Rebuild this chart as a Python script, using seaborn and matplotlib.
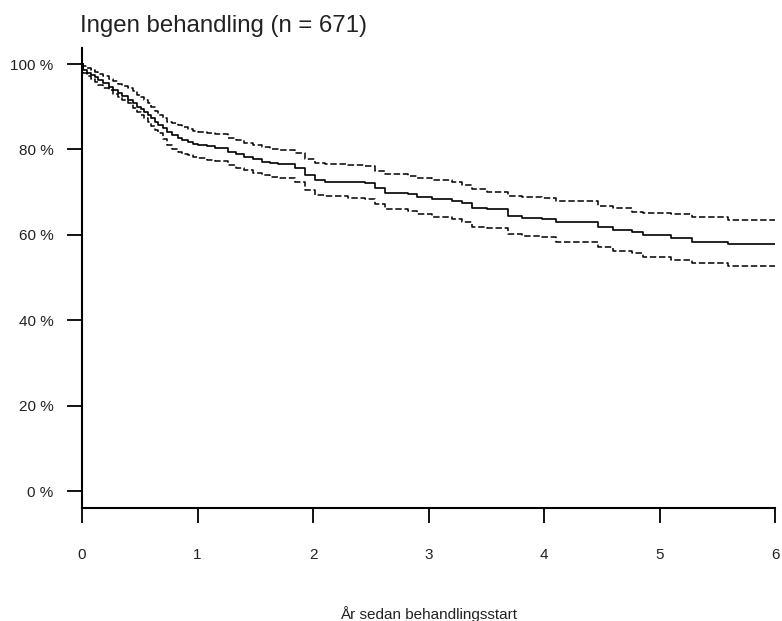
import matplotlib
matplotlib.use("Agg")
import matplotlib.pyplot as plt
import seaborn as sns
import pandas as pd

# Kaplan-Meier style survival estimate (years since treatment start, percent)
times = [0.00, 0.01, 0.04, 0.08, 0.11, 0.14, 0.18, 0.23, 0.27, 0.31, 0.35, 0.40,
         0.44, 0.48, 0.51, 0.54, 0.57, 0.60, 0.63, 0.66, 0.70, 0.74, 0.78, 0.83,
         0.87, 0.92, 0.96, 1.00, 1.08, 1.15, 1.26, 1.33, 1.40, 1.48, 1.56, 1.63,
         1.70, 1.84, 1.93, 2.02, 2.10, 2.30, 2.45, 2.54, 2.62, 2.82, 2.90, 3.03,
         3.20, 3.29, 3.38, 3.51, 3.69, 3.81, 3.98, 4.10, 4.47, 4.60, 4.76, 4.86,
         5.10, 5.28, 5.59, 6.00]
survival = [100.0, 98.6, 98.0, 97.4, 96.9, 96.3, 95.5, 94.7, 93.9, 93.1, 92.4, 91.6,
            90.8, 90.0, 89.4, 88.8, 88.0, 87.3, 86.5, 85.7, 84.9, 84.1, 83.3, 82.6,
            82.1, 81.7, 81.3, 81.0, 80.7, 80.3, 79.5, 78.9, 78.3, 77.7, 77.1, 76.8,
            76.5, 75.6, 74.0, 72.8, 72.4, 72.3, 72.1, 70.9, 69.9, 69.6, 68.9, 68.3,
            68.0, 67.4, 66.2, 66.0, 64.5, 64.0, 63.7, 63.1, 61.9, 61.1, 60.6, 60.0,
            59.3, 58.4, 57.8, 57.8]
upper_ci = [100.0, 99.5, 99.1, 98.6, 98.1, 97.6, 97.1, 96.6, 96.0, 95.4, 94.9, 94.3,
            93.6, 92.8, 92.2, 91.6, 90.8, 90.0, 89.0, 88.1, 87.3, 86.5, 86.1, 85.6,
            85.2, 84.8, 84.4, 84.1, 83.8, 83.5, 82.7, 82.1, 81.6, 81.1, 80.6, 80.2,
            79.9, 79.1, 77.7, 76.8, 76.6, 76.4, 76.2, 75.0, 74.2, 73.8, 73.4, 72.8,
            72.4, 71.7, 70.7, 70.1, 69.2, 68.8, 68.6, 68.0, 66.8, 66.2, 65.4, 65.0,
            64.8, 64.2, 63.5, 63.5]
lower_ci = [100.0, 97.9, 97.2, 96.4, 95.7, 95.0, 94.4, 93.8, 93.0, 92.2, 91.5, 90.8,
            89.8, 88.8, 88.1, 87.4, 86.5, 85.5, 84.6, 83.8, 82.4, 81.0, 80.2, 79.5,
            79.0, 78.6, 78.3, 78.0, 77.6, 77.2, 76.3, 75.7, 75.1, 74.5, 74.0, 73.6,
            73.3, 72.4, 70.5, 69.3, 69.0, 68.6, 68.3, 67.2, 66.0, 65.6, 64.8, 64.1,
            63.6, 62.9, 61.9, 61.5, 60.1, 59.7, 59.4, 58.4, 57.1, 56.2, 55.7, 54.9,
            54.2, 53.5, 52.6, 52.6]

x_ticks = [0, 1, 2, 3, 4, 5, 6]
y_ticks = [0, 20, 40, 60, 80, 100]
y_tick_labels = [f"{v} %" for v in y_ticks]
title = "Ingen behandling (n = 671)"
x_label = "År sedan behandlingsstart"

df = pd.DataFrame({"t": times, "s": survival, "u": upper_ci, "l": lower_ci})

sns.set_style("white")
plt.rcParams["font.family"] = ["Liberation Sans", "DejaVu Sans"]

fig = plt.figure(figsize=(7.82, 6.21), dpi=100)
ax = fig.add_axes([82 / 782, 1 - 508 / 621, (775 - 82) / 782, (508 - 48) / 621])

sns.lineplot(data=df, x="t", y="s", ax=ax, color="black", lw=1.2,
             drawstyle="steps-post", estimator=None, sort=False)
sns.lineplot(data=df, x="t", y="u", ax=ax, color="black", lw=1.1,
             drawstyle="steps-post", estimator=None, sort=False, dashes=False,
             linestyle=(0, (4.2, 1.8)))
sns.lineplot(data=df, x="t", y="l", ax=ax, color="black", lw=1.1,
             drawstyle="steps-post", estimator=None, sort=False, dashes=False,
             linestyle=(0, (4.2, 1.8)))

ax.set_xlim(0, 6)
ax.set_ylim(-3.98, 103.75)
ax.set_xticks(x_ticks)
ax.set_xticklabels([str(v) for v in x_ticks])
ax.set_yticks(y_ticks)
ax.set_yticklabels(y_tick_labels)
ax.tick_params(axis="both", direction="out", length=10.5, width=1.3,
               labelsize=11, color="black", labelcolor="#222222")
ax.tick_params(axis="x", pad=18)
ax.tick_params(axis="y", pad=10)
ax.tick_params(left=True, bottom=True)

for side in ["top", "right"]:
    ax.spines[side].set_visible(False)
for side in ["left", "bottom"]:
    ax.spines[side].set_color("black")
    ax.spines[side].set_linewidth(1.5)

ax.set_xlabel(x_label, fontsize=11, color="#222222", labelpad=32)
ax.set_ylabel("")
fig.text(80 / 782, 1 - 32 / 621, title, fontsize=17.3, color="#222222",
         ha="left", va="baseline")

fig.savefig("out.png", dpi=100, facecolor="white")
